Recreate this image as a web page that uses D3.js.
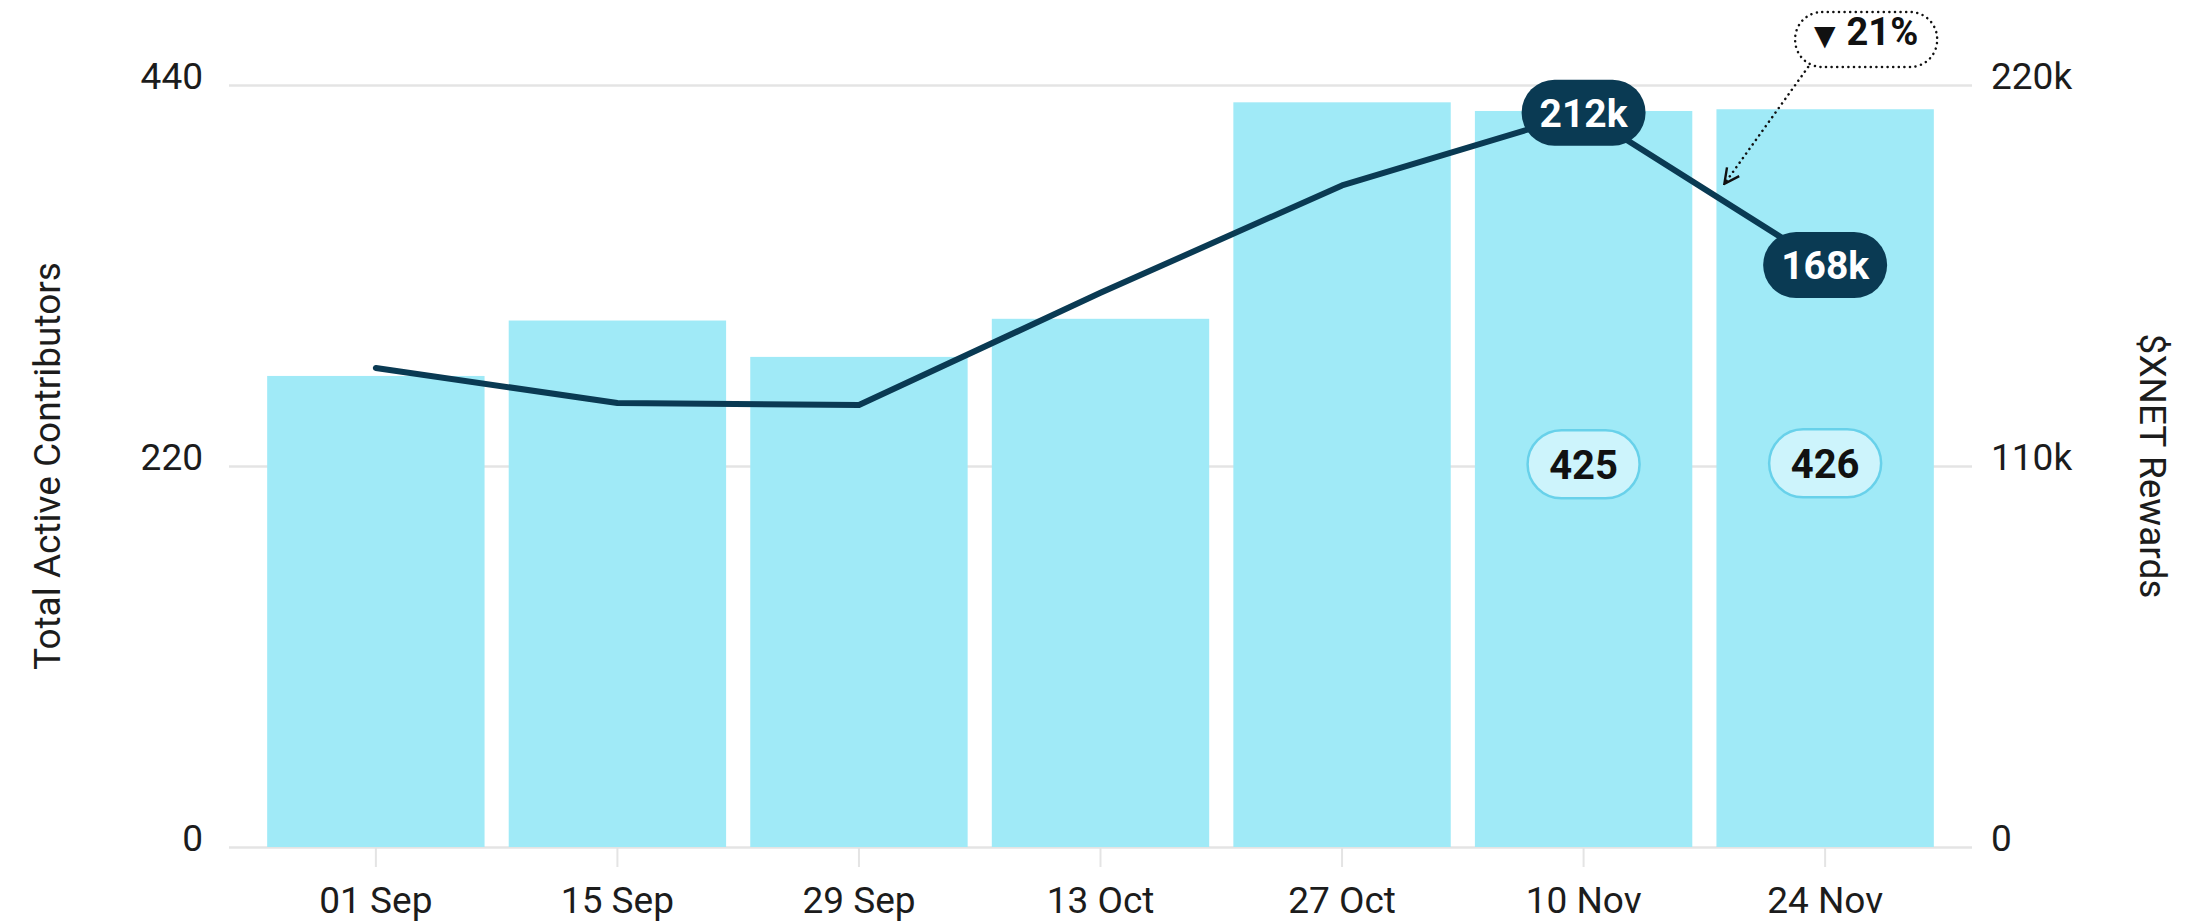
<!DOCTYPE html>
<html>
<head>
<meta charset="utf-8">
<script src="https://cdn.jsdelivr.net/npm/d3@7"></script>
<style>
  html, body { margin: 0; padding: 0; background: #fff; }
  svg { display: block; font-family: Roboto, "Noto Sans", sans-serif; }
</style>
</head>
<body>
<div id="chart"></div>
<script>
// chart data
const categories = ['01 Sep', '15 Sep', '29 Sep', '13 Oct', '27 Oct', '10 Nov', '24 Nov'];
const contributors = [272, 304, 283, 305, 430, 425, 426];
const rewards = [138300, 128200, 127600, 160000, 191000, 212000, 168000];
const leftTicks = [0, 220, 440];
const rightTicks = [0, 110000, 220000];
const barLabelCats = ['10 Nov', '24 Nov'];
const lineLabelCats = ['10 Nov', '24 Nov'];

const width = 2198;
const height = 921;
const plotLeft = 229;
const plotRight = 1972;
const plotTop = 85;
const plotBottom = 847;

const barColor = '#a0eaf7';
const lineColor = '#0a3a53';
const textColor = '#1c1c1c';

const data = categories.map((c, i) => ({ cat: c, bars: contributors[i], line: rewards[i] }));

const svg = d3.select('#chart').append('svg')
  .attr('width', width)
  .attr('height', height)
  .attr('viewBox', [0, 0, width, height]);

const x = d3.scaleBand()
  .domain(categories)
  .range([plotLeft, plotRight])
  .paddingInner(0.1)
  .paddingOuter(0.158);

const yL = d3.scaleLinear().domain([0, 440]).range([plotBottom, plotTop]);
const yR = d3.scaleLinear().domain([0, 220000]).range([plotBottom, plotTop]);

// grid lines
svg.append('g')
  .attr('transform', `translate(${plotLeft},0)`)
  .call(d3.axisLeft(yL).tickValues(leftTicks).tickSize(-(plotRight - plotLeft)).tickFormat(''))
  .call(g => g.select('.domain').remove())
  .call(g => g.selectAll('line').attr('stroke', '#e4e4e4').attr('stroke-width', 2.5));

// x axis ticks + labels
svg.append('g')
  .attr('transform', `translate(0,${plotBottom})`)
  .call(d3.axisBottom(x).tickSize(20).tickPadding(20))
  .call(g => g.select('.domain').remove())
  .call(g => g.selectAll('line').attr('stroke', '#e4e4e4').attr('stroke-width', 2))
  .call(g => g.selectAll('text')
    .attr('font-size', 37)
    .attr('font-family', 'Roboto, sans-serif')
    .attr('fill', textColor));

// bars
svg.append('g')
  .selectAll('rect')
  .data(data)
  .join('rect')
  .attr('x', d => x(d.cat))
  .attr('y', d => yL(d.bars))
  .attr('width', x.bandwidth())
  .attr('height', d => yL(0) - yL(d.bars))
  .attr('fill', barColor);

// left axis labels
svg.append('g')
  .attr('transform', `translate(${plotLeft},0)`)
  .call(d3.axisLeft(yL).tickValues(leftTicks).tickSize(0).tickPadding(26))
  .call(g => g.select('.domain').remove())
  .call(g => g.selectAll('text')
    .attr('font-size', 37)
    .attr('font-family', 'Roboto, sans-serif')
    .attr('fill', textColor)
    .attr('dy', '0.1em'));

// right axis labels
svg.append('g')
  .attr('transform', `translate(${plotRight},0)`)
  .call(d3.axisRight(yR).tickValues(rightTicks).tickSize(0).tickPadding(19).tickFormat(d3.format('~s')))
  .call(g => g.select('.domain').remove())
  .call(g => g.selectAll('text')
    .attr('font-size', 37)
    .attr('font-family', 'Roboto, sans-serif')
    .attr('fill', textColor)
    .attr('dy', '0.1em'));

// axis titles
svg.append('text')
  .attr('transform', `translate(47,${(plotTop + plotBottom) / 2}) rotate(-90)`)
  .attr('text-anchor', 'middle')
  .attr('dy', '0.36em')
  .attr('font-size', 37)
  .attr('fill', textColor)
  .text('Total Active Contributors');

svg.append('text')
  .attr('transform', `translate(2153,${(plotTop + plotBottom) / 2}) rotate(90)`)
  .attr('text-anchor', 'middle')
  .attr('dy', '0.36em')
  .attr('font-size', 37)
  .attr('fill', textColor)
  .text('$XNET Rewards');

// rewards line
const cx = d => x(d.cat) + x.bandwidth() / 2;
const line = d3.line()
  .x(cx)
  .y(d => yR(d.line));

svg.append('path')
  .datum(data)
  .attr('fill', 'none')
  .attr('stroke', lineColor)
  .attr('stroke-width', 6)
  .attr('stroke-linejoin', 'round')
  .attr('stroke-linecap', 'round')
  .attr('d', line);

// bar value pills
const barLabels = svg.append('g')
  .selectAll('g')
  .data(data.filter(d => barLabelCats.includes(d.cat)))
  .join('g')
  .attr('transform', d => `translate(${cx(d)},${yL(d.bars * 0.52)})`);

barLabels.append('rect')
  .attr('x', -56)
  .attr('y', -34)
  .attr('width', 112)
  .attr('height', 68)
  .attr('rx', 34)
  .attr('fill', '#cdf4fc')
  .attr('stroke', '#68d1ea')
  .attr('stroke-width', 2.5);

barLabels.append('text')
  .attr('text-anchor', 'middle')
  .attr('dy', '0.36em')
  .attr('font-size', 40)
  .attr('font-weight', 'bold')
  .attr('fill', '#111')
  .text(d => d.bars);

// line value pills
const fmtK = d3.format('.3s');
const lineLabels = svg.append('g')
  .selectAll('g')
  .data(data.filter(d => lineLabelCats.includes(d.cat)))
  .join('g')
  .attr('transform', d => `translate(${cx(d)},${yR(d.line)})`);

lineLabels.append('rect')
  .attr('x', -62)
  .attr('y', -33)
  .attr('width', 124)
  .attr('height', 66)
  .attr('rx', 33)
  .attr('fill', lineColor);

lineLabels.append('text')
  .attr('text-anchor', 'middle')
  .attr('dy', '0.36em')
  .attr('font-size', 39)
  .attr('font-weight', 'bold')
  .attr('fill', '#fff')
  .text(d => fmtK(d.line));

// change callout
const a = data[categories.indexOf('10 Nov')];
const b = data[categories.indexOf('24 Nov')];
const pct = Math.round((1 - b.line / a.line) * 100);
const midX = (cx(a) + cx(b)) / 2;
const midY = (yR(a.line) + yR(b.line)) / 2;
const boxX = cx(b) + 41;
const boxY = 39;

svg.append('defs').append('marker')
  .attr('id', 'chev')
  .attr('viewBox', '0 0 12 12')
  .attr('refX', 11)
  .attr('refY', 6)
  .attr('markerWidth', 18)
  .attr('markerHeight', 18)
  .attr('markerUnits', 'userSpaceOnUse')
  .attr('orient', 'auto')
  .append('path')
  .attr('d', 'M1,1L11,6L1,11')
  .attr('fill', 'none')
  .attr('stroke', '#111')
  .attr('stroke-width', 1.6);

svg.append('line')
  .attr('x1', boxX - 58)
  .attr('y1', boxY + 28)
  .attr('x2', midX + 20)
  .attr('y2', midY - 5)
  .attr('stroke', '#111')
  .attr('stroke-width', 2.5)
  .attr('stroke-linecap', 'round')
  .attr('stroke-dasharray', '0.1 5.5')
  .attr('marker-end', 'url(#chev)');

svg.append('rect')
  .attr('x', boxX - 71)
  .attr('y', boxY - 27)
  .attr('width', 142)
  .attr('height', 55)
  .attr('rx', 27)
  .attr('fill', '#fff')
  .attr('stroke', '#111')
  .attr('stroke-width', 2.5)
  .attr('stroke-linecap', 'round')
  .attr('stroke-dasharray', '0.1 5.5');

const callText = svg.append('text')
  .attr('x', boxX)
  .attr('y', boxY)
  .attr('text-anchor', 'middle')
  .attr('dy', '0.36em')
  .attr('fill', '#111');
callText.append('tspan')
  .attr('font-size', 28)
  .attr('font-family', 'DejaVu Sans, sans-serif')
  .text('▼');
callText.append('tspan')
  .attr('font-size', 38)
  .attr('font-weight', 'bold')
  .attr('dx', 11)
  .text(`${pct}%`);
</script>
</body>
</html>
